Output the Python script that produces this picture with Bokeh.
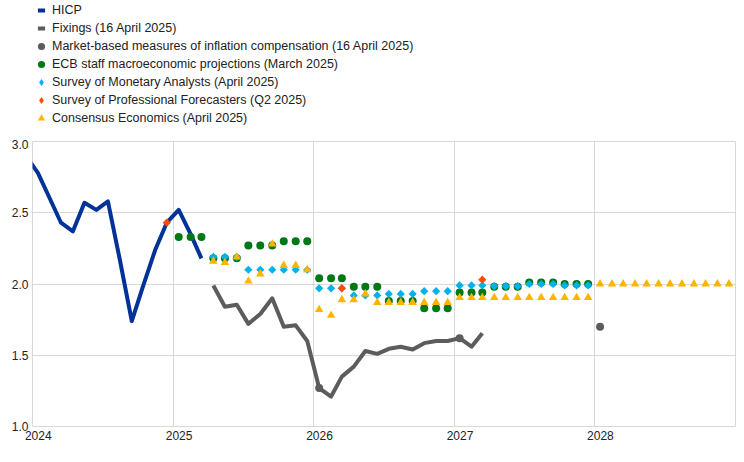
import math
import pandas as pd
from bokeh.plotting import figure
from bokeh.layouts import column
from bokeh.models import (ColumnDataSource, Legend, LegendItem, FixedTicker,
                          DatetimeTickFormatter, NumeralTickFormatter, Range1d)
from bokeh.embed import file_html
from bokeh.resources import INLINE

# ---------------- data ----------------
hicp_start, hicp_end = "2023-12", "2025-03"
hicp_values = [2.90, 2.78, 2.60, 2.43, 2.37, 2.57, 2.52, 2.58, 2.17, 1.74,
               1.99, 2.24, 2.43, 2.52, 2.35, 2.18]

fix_start, fix_end = "2025-04", "2027-03"
fix_values = [1.99, 1.84, 1.855, 1.72, 1.79, 1.90, 1.70, 1.71, 1.60,
              1.27, 1.21, 1.35, 1.42, 1.53, 1.51, 1.545, 1.56, 1.54, 1.585, 1.60, 1.60,
              1.62, 1.56, 1.655]

market_months = ["2026-01", "2027-01", "2028-01"]
market_values = [1.27, 1.62, 1.70]

ecb_start, ecb_end = "2025-01", "2027-12"
ecb_values = [2.33, 2.33, 2.33, 2.18, 2.18, 2.18, 2.27, 2.27, 2.27, 2.30, 2.30, 2.30,
              2.04, 2.04, 2.04, 1.98, 1.98, 1.98, 1.88, 1.88, 1.88, 1.83, 1.83, 1.83,
              1.94, 1.94, 1.94, 1.98, 1.98, 1.98, 2.01, 2.01, 2.01, 2.00, 2.00, 2.00]

sma_start, sma_end = "2025-04", "2027-12"
sma_values = [2.19, 2.19, 2.19, 2.10, 2.10, 2.10, 2.10, 2.10, 2.10,
              1.97, 1.97, 1.97, 1.92, 1.92, 1.92, 1.93, 1.93, 1.93, 1.95, 1.95, 1.95,
              1.99, 1.99, 1.99, 1.985, 1.985, 1.985, 2.00, 2.00, 2.00, 1.99, 1.99, 1.99]

spf_months = ["2024-12", "2026-03", "2027-03"]
spf_values = [2.43, 1.97, 2.03]

cons_start, cons_end = "2025-04", "2028-12"
cons_values = [2.16, 2.15, 2.19, 2.02, 2.07, 2.28, 2.13, 2.13, 2.10,
               1.82, 1.78, 1.89, 1.89, 1.93, 1.87, 1.87, 1.87, 1.87, 1.87, 1.87, 1.87,
               1.905, 1.905, 1.905, 1.905, 1.905, 1.905, 1.905, 1.905, 1.905, 1.905, 1.905, 1.905,
               2.00, 2.00, 2.00, 2.00, 2.00, 2.00, 2.00, 2.00, 2.00, 2.00, 2.00, 2.00]

year_ticks = [2024, 2025, 2026, 2027, 2028, 2029]
y_ticks = [1.0, 1.5, 2.0, 2.5, 3.0]

labels = ["HICP", "Fixings (16 April 2025)",
          "Market-based measures of inflation compensation (16 April 2025)",
          "ECB staff macroeconomic projections (March 2025)",
          "Survey of Monetary Analysts (April 2025)",
          "Survey of Professional Forecasters (Q2 2025)",
          "Consensus Economics (April 2025)"]

# ---------------- helpers ----------------
def mid_month(periods):
    return [p.to_timestamp() + pd.Timedelta(days=14) for p in periods]

def month_range(a, b):
    return mid_month(pd.period_range(a, b, freq="M"))

def months(lst):
    return mid_month([pd.Period(m, freq="M") for m in lst])

def ms(ts):
    return pd.Timestamp(ts).value / 1e6

BLUE = "#003299"
GREY = "#5c5c5c"
GREEN = "#007816"
CYAN = "#00b1ea"
ORANGE = "#ff4b00"
YELLOW = "#ffb400"
GRID = "#d9d9d9"
TEXT = "#222222"
FONT = "Liberation Sans"

# ---------------- main chart ----------------
p = figure(width=736, height=307, x_axis_type="datetime",
           output_backend="svg", toolbar_location=None,
           x_range=Range1d(pd.Timestamp("2024-01-01"), pd.Timestamp("2029-01-01")),
           y_range=Range1d(1.0, 3.0),
           min_border_left=32, min_border_right=1, min_border_top=2, min_border_bottom=20)
p.outline_line_color = GRID
p.background_fill_color = "white"
p.border_fill_color = "white"

p.xgrid.ticker = FixedTicker(ticks=[ms(f"{y}-01-01") for y in year_ticks])
p.ygrid.ticker = FixedTicker(ticks=y_ticks)
p.xgrid.grid_line_color = GRID
p.ygrid.grid_line_color = GRID

p.xaxis.ticker = FixedTicker(ticks=[ms(f"{y}-01-16") for y in year_ticks[:-1]])
fmt = "%Y"
p.xaxis.formatter = DatetimeTickFormatter(microseconds=fmt, milliseconds=fmt, seconds=fmt,
                                          minsec=fmt, minutes=fmt, hourmin=fmt, hours=fmt,
                                          days=fmt, months=fmt, years=fmt)
p.yaxis.ticker = FixedTicker(ticks=y_ticks)
p.yaxis.formatter = NumeralTickFormatter(format="0.0")
for ax in (p.xaxis[0], p.yaxis[0]):
    ax.axis_line_color = None
    ax.major_tick_line_color = None
    ax.minor_tick_line_color = None
    ax.major_tick_out = 0
    ax.major_tick_in = 0
    ax.minor_tick_out = 0
    ax.major_label_text_font = FONT
    ax.major_label_text_font_size = "12px"
    ax.major_label_text_color = TEXT
p.xaxis.major_label_standoff = 4
p.yaxis.major_label_standoff = 4

src_hicp = ColumnDataSource(dict(x=month_range(hicp_start, hicp_end), y=hicp_values))
src_fix = ColumnDataSource(dict(x=month_range(fix_start, fix_end), y=fix_values))
src_mkt = ColumnDataSource(dict(x=months(market_months), y=market_values))
src_ecb = ColumnDataSource(dict(x=month_range(ecb_start, ecb_end), y=ecb_values))
src_sma = ColumnDataSource(dict(x=month_range(sma_start, sma_end), y=sma_values))
src_spf = ColumnDataSource(dict(x=months(spf_months), y=spf_values))
src_cons = ColumnDataSource(dict(x=month_range(cons_start, cons_end), y=cons_values))

p.line("x", "y", source=src_hicp, line_color=BLUE, line_width=4, line_join="round")
p.line("x", "y", source=src_fix, line_color=GREY, line_width=4, line_join="round")
p.scatter("x", "y", source=src_mkt, marker="circle", size=8, fill_color=GREY, line_color=None)
p.scatter("x", "y", source=src_ecb, marker="circle", size=8, fill_color=GREEN, line_color=None)
p.scatter("x", "y", source=src_sma, marker="square", angle=math.pi / 4, size=5.8,
          fill_color=CYAN, line_color=None)
p.scatter("x", "y", source=src_spf, marker="square", angle=math.pi / 4, size=5.8,
          fill_color=ORANGE, line_color=None)
p.scatter("x", "y", source=src_cons, marker="triangle", size=8.5, fill_color=YELLOW, line_color=None)

# ---------------- legend (separate strip above the chart) ----------------
lg = figure(width=736, height=139, output_backend="svg", toolbar_location=None,
            x_range=Range1d(0, 1), y_range=Range1d(0, 1),
            x_axis_location=None, y_axis_location=None,
            min_border_left=0, min_border_right=0, min_border_top=0, min_border_bottom=0)
lg.outline_line_color = None
lg.xgrid.visible = False
lg.ygrid.visible = False
lg.background_fill_color = "white"
lg.border_fill_color = "white"

def proxy_src():
    return ColumnDataSource(dict(x=[0.5], y=[float("nan")]))

proxies = [
    lg.scatter("x", "y", source=proxy_src(), marker="dash", line_color=BLUE, line_width=4),
    lg.scatter("x", "y", source=proxy_src(), marker="dash", line_color=GREY, line_width=4),
    lg.scatter("x", "y", source=proxy_src(), marker="circle", fill_color=GREY, line_color=None),
    lg.scatter("x", "y", source=proxy_src(), marker="circle", fill_color=GREEN, line_color=None),
    lg.scatter("x", "y", source=proxy_src(), marker="diamond", fill_color=CYAN, line_color=None),
    lg.scatter("x", "y", source=proxy_src(), marker="diamond", fill_color=ORANGE, line_color=None),
    lg.scatter("x", "y", source=proxy_src(), marker="triangle", fill_color=YELLOW, line_color=None),
]
legend = Legend(items=[LegendItem(label=l, renderers=[r]) for l, r in zip(labels, proxies)],
                location=(0, 12), orientation="vertical",
                glyph_width=18, glyph_height=18, label_height=18, spacing=0,
                label_standoff=2, padding=0, margin=0,
                border_line_color=None, background_fill_alpha=0,
                label_text_font=FONT, label_text_font_size="12.5px", label_text_color=TEXT)
lg.add_layout(legend, "center")

layout = column(lg, p, spacing=0)
open("out.html", "w").write(file_html(layout, INLINE))
